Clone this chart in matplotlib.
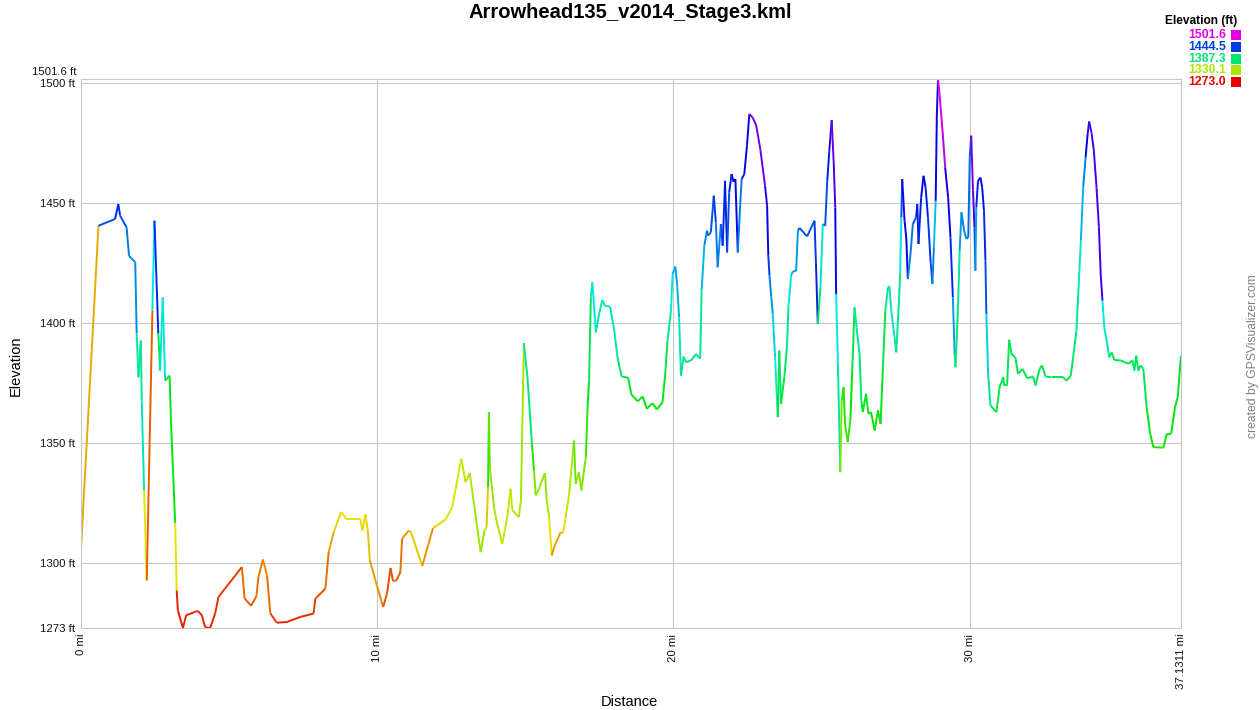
import numpy as np
import matplotlib.pyplot as plt
from matplotlib.collections import LineCollection
from matplotlib.colors import hsv_to_rgb
from matplotlib.patches import Rectangle

plt.rcParams['font.family'] = ['Liberation Sans', 'DejaVu Sans']

# distance along track (mi), elevation (ft), and the value used to colour the line leaving each point
dist_mi = [0.00, 0.59, 1.15, 1.26, 1.32, 1.54, 1.62, 1.83, 1.88, 1.94,
           2.02, 2.05, 2.13, 2.20, 2.22, 2.41, 2.48, 2.61, 2.67, 2.76,
           2.84, 2.99, 3.04, 3.18, 3.23, 3.27, 3.44, 3.55, 3.85, 3.94,
           4.08, 4.19, 4.36, 4.53, 4.64, 5.43, 5.52, 5.74, 5.92, 5.99,
           6.14, 6.28, 6.39, 6.61, 6.95, 7.40, 7.85, 7.91, 8.25, 8.36,
           8.53, 8.78, 8.96, 9.43, 9.50, 9.60, 9.68, 9.75, 10.00, 10.20,
           10.33, 10.45, 10.53, 10.65, 10.78, 10.84, 11.07, 11.14, 11.52, 11.88,
           12.31, 12.53, 12.84, 12.98, 13.12, 13.21, 13.49, 13.62, 13.69, 13.74,
           13.77, 13.80, 13.94, 14.05, 14.22, 14.39, 14.50, 14.56, 14.67, 14.78,
           14.85, 14.95, 15.07, 15.22, 15.29, 15.35, 15.46, 15.66, 15.72, 15.80,
           15.89, 15.97, 16.19, 16.27, 16.36, 16.48, 16.64, 16.70, 16.81, 16.89,
           17.04, 17.10, 17.15, 17.21, 17.26, 17.38, 17.49, 17.60, 17.68, 17.86,
           18.00, 18.11, 18.25, 18.47, 18.58, 18.79, 18.96, 19.10, 19.29, 19.44,
           19.63, 19.72, 19.80, 19.91, 19.97, 20.06, 20.12, 20.19, 20.25, 20.34,
           20.42, 20.59, 20.76, 20.90, 20.95, 21.04, 21.13, 21.17, 21.26, 21.36,
           21.43, 21.49, 21.60, 21.66, 21.74, 21.81, 21.88, 21.96, 22.03, 22.09,
           22.17, 22.25, 22.30, 22.39, 22.48, 22.56, 22.67, 22.79, 22.93, 23.09,
           23.16, 23.20, 23.24, 23.30, 23.35, 23.43, 23.52, 23.57, 23.63, 23.74,
           23.83, 23.88, 23.97, 24.03, 24.14, 24.20, 24.25, 24.51, 24.76, 24.81,
           24.87, 24.96, 25.04, 25.12, 25.19, 25.26, 25.34, 25.41, 25.46, 25.49,
           25.55, 25.63, 25.68, 25.74, 25.79, 25.88, 25.97, 26.03, 26.11, 26.18,
           26.28, 26.34, 26.39, 26.50, 26.58, 26.67, 26.79, 26.90, 26.99, 27.07,
           27.15, 27.24, 27.29, 27.35, 27.46, 27.52, 27.60, 27.65, 27.69, 27.72,
           27.80, 27.86, 27.91, 28.00, 28.08, 28.19, 28.23, 28.27, 28.36, 28.44,
           28.51, 28.59, 28.68, 28.74, 28.79, 28.85, 28.89, 28.93, 28.98, 29.09,
           29.17, 29.27, 29.35, 29.43, 29.49, 29.52, 29.60, 29.66, 29.72, 29.81,
           29.89, 29.95, 30.00, 30.05, 30.11, 30.16, 30.19, 30.22, 30.28, 30.36,
           30.42, 30.48, 30.53, 30.56, 30.62, 30.70, 30.90, 31.01, 31.13, 31.16,
           31.26, 31.33, 31.41, 31.54, 31.63, 31.78, 31.94, 32.14, 32.22, 32.36,
           32.44, 32.56, 32.76, 33.15, 33.27, 33.41, 33.49, 33.60, 33.68, 33.75,
           33.83, 33.91, 33.98, 34.03, 34.11, 34.19, 34.28, 34.36, 34.42, 34.48,
           34.54, 34.64, 34.71, 34.79, 34.88, 35.10, 35.35, 35.49, 35.56, 35.62,
           35.69, 35.77, 35.86, 35.97, 36.09, 36.20, 36.54, 36.65, 36.80, 36.93,
           37.02, 37.10, 37.1311]

elev_ft = [1306.0, 1440.5, 1443.3, 1449.5, 1444.7, 1439.8, 1428.0, 1425.3, 1395.6, 1377.4,
           1392.7, 1367.7, 1330.3, 1301.2, 1292.8, 1405.2, 1442.6, 1395.6, 1380.2, 1410.7,
           1376.0, 1378.1, 1358.0, 1316.6, 1288.7, 1280.4, 1273.0, 1278.3, 1279.7, 1280.1,
           1278.3, 1273.3, 1273.0, 1279.1, 1285.9, 1298.4, 1285.4, 1282.2, 1286.2, 1294.2,
           1301.5, 1294.9, 1279.1, 1275.2, 1275.5, 1277.6, 1279.0, 1285.2, 1289.4, 1304.6,
           1312.9, 1321.3, 1318.5, 1318.5, 1313.6, 1320.3, 1313.6, 1301.2, 1290.1, 1281.8,
           1287.3, 1298.0, 1292.6, 1292.8, 1296.3, 1310.2, 1313.6, 1312.9, 1298.8, 1314.6,
           1318.2, 1323.3, 1343.5, 1333.7, 1337.5, 1329.6, 1304.6, 1313.6, 1315.0, 1331.6,
           1362.9, 1340.0, 1323.3, 1316.4, 1308.0, 1319.2, 1331.0, 1322.0, 1320.5, 1319.2,
           1326.1, 1391.6, 1377.4, 1350.0, 1338.6, 1328.2, 1331.0, 1337.5, 1326.1, 1319.2,
           1303.2, 1306.7, 1312.9, 1312.5, 1319.2, 1328.9, 1351.0, 1333.0, 1337.9, 1330.3,
           1344.1, 1365.0, 1376.0, 1410.7, 1416.9, 1396.1, 1403.8, 1409.6, 1407.2, 1406.8,
           1396.8, 1385.7, 1377.7, 1377.2, 1370.2, 1367.4, 1369.4, 1364.3, 1366.6, 1364.0,
           1367.0, 1378.8, 1392.7, 1404.5, 1420.4, 1423.5, 1416.3, 1402.4, 1378.1, 1386.0,
           1383.7, 1384.4, 1387.1, 1385.1, 1413.5, 1432.2, 1438.4, 1436.4, 1437.7, 1453.0,
           1441.9, 1423.2, 1441.2, 1432.2, 1459.2, 1429.4, 1454.4, 1462.0, 1458.8, 1459.9,
           1429.4, 1448.8, 1459.9, 1462.0, 1473.8, 1487.0, 1485.6, 1482.4, 1472.4, 1457.2,
           1448.8, 1428.0, 1419.7, 1411.0, 1403.8, 1385.7, 1360.8, 1388.5, 1366.3, 1377.4,
           1389.9, 1406.5, 1419.7, 1421.5, 1421.6, 1438.4, 1439.6, 1436.1, 1442.6, 1424.6,
           1399.6, 1414.8, 1441.2, 1440.5, 1459.2, 1471.7, 1484.5, 1466.2, 1448.1, 1412.1,
           1383.0, 1337.9, 1367.7, 1373.3, 1358.0, 1350.4, 1359.4, 1378.8, 1406.5, 1398.2,
           1387.1, 1367.7, 1362.9, 1370.5, 1362.2, 1362.9, 1355.2, 1363.6, 1358.0, 1381.6,
           1405.2, 1414.8, 1415.3, 1405.2, 1394.1, 1387.8, 1406.5, 1420.4, 1444.0, 1459.9,
           1442.6, 1435.0, 1418.3, 1428.7, 1441.2, 1444.0, 1449.5, 1432.9, 1452.3, 1461.3,
           1456.4, 1444.0, 1425.3, 1416.3, 1431.5, 1450.9, 1487.0, 1501.6, 1495.3, 1478.7,
           1464.8, 1452.3, 1435.6, 1410.7, 1387.1, 1381.6, 1405.2, 1430.1, 1446.1, 1438.4,
           1435.0, 1435.7, 1468.9, 1478.0, 1455.1, 1439.8, 1421.8, 1448.1, 1459.2, 1460.6,
           1456.4, 1446.8, 1426.0, 1403.8, 1378.8, 1365.6, 1362.9, 1373.3, 1377.4, 1374.0,
           1374.0, 1393.0, 1387.1, 1385.7, 1378.8, 1380.9, 1377.0, 1377.7, 1374.0, 1380.9,
           1382.3, 1377.7, 1377.4, 1377.4, 1376.0, 1378.1, 1385.7, 1396.8, 1416.3, 1434.3,
           1456.4, 1468.9, 1478.7, 1483.9, 1479.3, 1471.7, 1456.4, 1439.8, 1420.4, 1409.3,
           1398.2, 1391.3, 1385.7, 1387.8, 1384.6, 1384.4, 1383.0, 1384.4, 1380.2, 1386.4,
           1380.2, 1382.3, 1380.9, 1365.0, 1353.9, 1348.3, 1348.1, 1353.9, 1353.9, 1365.0,
           1369.1, 1381.6, 1386.4]

color_ft = [1307, 1440, 1448, 1448, 1440, 1432, 1428, 1428, 1398, 1395,
            1395, 1400, 1320, 1320, 1292, 1410, 1448, 1380, 1405, 1410,
            1372, 1370, 1368, 1318, 1280, 1278, 1280, 1280, 1280, 1280,
            1280, 1280, 1280, 1282, 1285, 1295, 1292, 1292, 1295, 1298,
            1300, 1295, 1285, 1280, 1280, 1280, 1285, 1288, 1295, 1305,
            1315, 1318, 1318, 1316, 1316, 1316, 1312, 1305, 1300, 1290,
            1288, 1290, 1292, 1292, 1296, 1302, 1312, 1312, 1302, 1316,
            1318, 1322, 1326, 1328, 1330, 1333, 1335, 1325, 1312, 1360,
            1345, 1335, 1330, 1330, 1325, 1325, 1328, 1330, 1330, 1330,
            1332, 1392, 1388, 1360, 1340, 1335, 1335, 1335, 1330, 1318,
            1302, 1305, 1310, 1318, 1325, 1330, 1345, 1335, 1335, 1340,
            1355, 1370, 1380, 1405, 1408, 1400, 1402, 1402, 1402, 1400,
            1398, 1385, 1375, 1372, 1368, 1366, 1366, 1365, 1365, 1366,
            1370, 1380, 1395, 1408, 1420, 1425, 1420, 1400, 1392, 1390,
            1388, 1390, 1390, 1395, 1420, 1430, 1435, 1435, 1440, 1445,
            1432, 1430, 1438, 1448, 1450, 1440, 1450, 1455, 1455, 1455,
            1430, 1432, 1450, 1455, 1458, 1478, 1478, 1478, 1476, 1462,
            1455, 1445, 1430, 1425, 1415, 1405, 1375, 1385, 1375, 1385,
            1395, 1408, 1420, 1425, 1425, 1438, 1440, 1440, 1445, 1450,
            1385, 1405, 1428, 1440, 1450, 1465, 1476, 1470, 1455, 1410,
            1395, 1340, 1355, 1360, 1355, 1355, 1365, 1378, 1395, 1395,
            1385, 1375, 1370, 1370, 1368, 1365, 1362, 1362, 1370, 1380,
            1392, 1400, 1400, 1400, 1398, 1392, 1395, 1410, 1440, 1460,
            1458, 1455, 1430, 1432, 1440, 1450, 1450, 1450, 1455, 1455,
            1450, 1445, 1440, 1430, 1418, 1455, 1458, 1500, 1498, 1492,
            1460, 1458, 1448, 1425, 1395, 1388, 1395, 1425, 1430, 1428,
            1430, 1435, 1440, 1478, 1470, 1440, 1425, 1450, 1455, 1455,
            1452, 1448, 1440, 1415, 1392, 1378, 1378, 1380, 1380, 1380,
            1380, 1380, 1380, 1380, 1380, 1380, 1380, 1380, 1380, 1380,
            1380, 1380, 1380, 1380, 1380, 1380, 1388, 1398, 1405, 1420,
            1430, 1455, 1465, 1470, 1470, 1470, 1470, 1468, 1468, 1410,
            1405, 1395, 1388, 1382, 1382, 1382, 1382, 1382, 1382, 1382,
            1382, 1382, 1382, 1370, 1365, 1358, 1360, 1362, 1365, 1368,
            1370, 1375, 1375]

legend_vals = [1501.6, 1444.5, 1387.3, 1330.1, 1273.0]
y_ticks = [1273, 1300, 1350, 1400, 1450, 1500]
y_tick_labels = ['1273 ft', '1300 ft', '1350 ft', '1400 ft', '1450 ft', '1500 ft']
x_ticks = [0, 10, 20, 30, 37.1311]
x_tick_labels = ['0 mi', '10 mi', '20 mi', '30 mi', '37.1311 mi']

e_min, e_max = 1273.0, 1501.6


def elev_color(v):
    h = (v - e_min) / (e_max - e_min) * 300.0 / 360.0
    h = min(max(h, 0.0), 300.0 / 360.0)
    return hsv_to_rgb((h, 1.0, 0.9))


W, H = 1260, 710
fig = plt.figure(figsize=(W / 100, H / 100), dpi=100)
ax = fig.add_axes([81 / W, 1 - 628 / H, 1100 / W, 549 / H])

pts = np.column_stack([dist_mi, elev_ft])
segs = np.stack([pts[:-1], pts[1:]], axis=1)
cols = [elev_color(c) for c in color_ft[:-1]]
lc = LineCollection(segs, colors=cols, linewidths=1.4, capstyle='butt', joinstyle='round')
ax.add_collection(lc)

ax.set_xlim(0, 37.1311)
ax.set_ylim(e_min, e_max)
ax.set_yticks(y_ticks)
ax.set_yticklabels(y_tick_labels)
ax.set_xticks(x_ticks)
ax.set_xticklabels(x_tick_labels, rotation=90)
ax.tick_params(length=0, labelsize=8.2, pad=4, colors='#111111')
ax.grid(True, color='#c8c8c8', linewidth=0.8)
ax.set_axisbelow(True)
for s in ax.spines.values():
    s.set_color('#c8c8c8')
    s.set_linewidth(0.8)

fig.text(76 / W, 1 - 72 / H, '1501.6 ft', ha='right', va='center', size=8.2, color='#111111')

fig.text(630 / W, 1 - 12 / H, 'Arrowhead135_v2014_Stage3.kml', ha='center', va='center',
         size=14.5, weight='bold')
fig.text(16 / W, 1 - 366 / H, 'Elevation', rotation=90, ha='center', va='center', size=10.5)
fig.text(629 / W, 1 - 702 / H, 'Distance', ha='center', va='center', size=10.5)
fig.text(1253 / W, 1 - 356 / H, 'created by GPSVisualizer.com', rotation=90, ha='center',
         va='center', size=8.7, color='#808080')

# legend
fig.text(1237 / W, 1 - 21 / H, 'Elevation (ft)', ha='right', va='center', size=8.6, weight='bold')
for i, v in enumerate(legend_vals):
    yy = 35 + i * 11.75
    fig.text(1226 / W, 1 - yy / H, f'{v:.1f}', ha='right', va='center', size=8.8,
             weight='bold', color=elev_color(v))
    fig.add_artist(Rectangle((1231 / W, 1 - (yy + 5) / H), 10 / W, 10 / H,
                             transform=fig.transFigure, color=elev_color(v), lw=0))

fig.savefig('out.png', dpi=100)
